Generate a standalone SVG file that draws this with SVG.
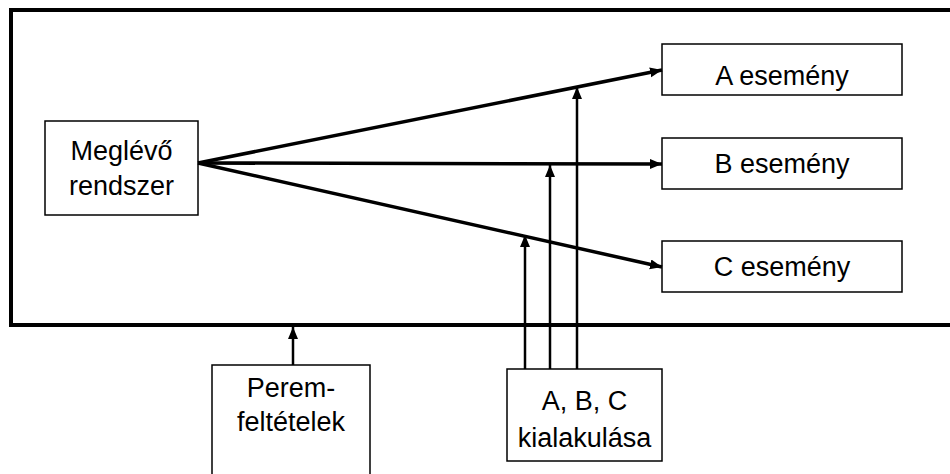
<svg xmlns="http://www.w3.org/2000/svg" width="950" height="474" viewBox="0 0 950 474">
<style>
.box{fill:#fff;stroke:#000;stroke-width:1.5}
.t{font-family:"Liberation Sans",Arial,sans-serif;font-size:27px;fill:#000;text-anchor:middle}
.c{stroke:#000;fill:none}
.thick{stroke-width:3.5}
.thin{stroke-width:2.5}
</style>
<defs>
<marker id="ah" markerUnits="userSpaceOnUse" markerWidth="14" markerHeight="12" refX="12" refY="5" orient="auto">
<path d="M0,0 L12,5 L0,10 Z" fill="#000"/>
</marker>
</defs>
<rect x="0" y="0" width="950" height="474" fill="#fff"/>
<g id="frame">
<path d="M955,10 H11 V325 H955" fill="none" stroke="#000" stroke-width="4"/>
</g>
<g id="meglevo">
<rect class="box" x="45" y="121" width="153" height="94"/>
<text class="t" x="121.5" y="160">Meglévő</text>
<text class="t" x="121.5" y="195">rendszer</text>
</g>
<g id="a-esemeny">
<rect class="box" x="662" y="44" width="240" height="51"/>
<text class="t" x="782" y="85">A esemény</text>
</g>
<g id="b-esemeny">
<rect class="box" x="662" y="138" width="240" height="51"/>
<text class="t" x="782" y="173">B esemény</text>
</g>
<g id="c-esemeny">
<rect class="box" x="662" y="241" width="240" height="51"/>
<text class="t" x="782" y="276">C esemény</text>
</g>
<g id="peremfeltetelek">
<rect class="box" x="212" y="365" width="158" height="120"/>
<text class="t" x="291" y="397">Perem-</text>
<text class="t" x="291" y="431">feltételek</text>
</g>
<g id="kialakulasa">
<rect class="box" x="507" y="369" width="155" height="92"/>
<text class="t" x="584.5" y="410">A, B, C</text>
<text class="t" x="584.5" y="447">kialakulása</text>
</g>
<g id="connectors">
<line class="c thick" x1="198" y1="163" x2="662" y2="70" marker-end="url(#ah)"/>
<line class="c thick" x1="198" y1="163" x2="662" y2="164" marker-end="url(#ah)"/>
<line class="c thick" x1="198" y1="163" x2="662" y2="267" marker-end="url(#ah)"/>
<line class="c thin" x1="525" y1="369" x2="525" y2="235" marker-end="url(#ah)"/>
<line class="c thin" x1="550" y1="369" x2="550" y2="165" marker-end="url(#ah)"/>
<line class="c thin" x1="577" y1="369" x2="577" y2="87" marker-end="url(#ah)"/>
<line class="c thin" x1="293" y1="365" x2="293" y2="327" marker-end="url(#ah)"/>
</g>
</svg>
